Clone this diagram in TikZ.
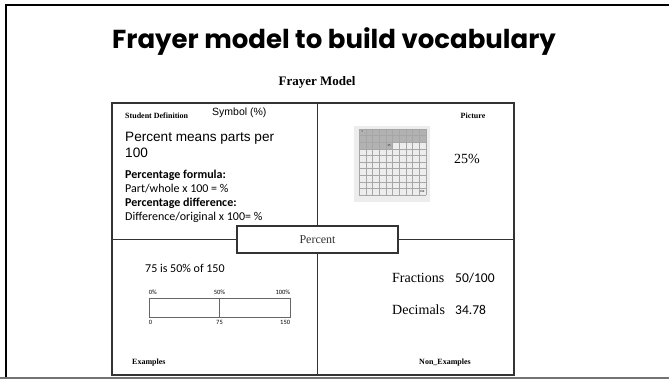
\documentclass[tikz,border=0pt]{standalone}
\usepackage{fontspec}
\setmainfont{Liberation Serif}
\newfontfamily\titlefont{Poppins}
\newfontfamily\calfont{Carlito}
\newfontfamily\arialfont{Liberation Sans}
\usetikzlibrary{positioning}
\tikzset{>=latex}
\newcommand{\fsz}[1]{\fontsize{#1}{1.2\dimexpr #1pt\relax}\selectfont}
\tikzset{
  slideline/.style = {line width = 1.6pt, black},
  frayerline/.style = {line width = 1.1pt, black!80},
  tag/.style = {inner sep = 0pt, font = \bfseries\fsz{8}},
  gridline/.style = {line width = 0.4pt, black!35}
}

\begin{document}
\begin{tikzpicture}[x = 1pt, y = -1pt]
\useasboundingbox (0,0) rectangle (669,379);
\draw[slideline] (6,379) -- (6,5) -- (669,5);
\draw[line width = 1.2pt, black!55] (0,378) -- (669,378);
\node[inner sep = 0pt, font = \titlefont\bfseries\fsz{26}] (title) at (334,42) {Frayer model to build vocabulary};
\node[inner sep = 0pt, font = \bfseries\fsz{13}] (frayer) at (317,82) {Frayer Model};

\draw[frayerline] (112,103) rectangle (514,375);
\node[draw, frayerline, minimum width = 161pt, minimum height = 27pt, inner sep = 0pt, fill = white, font = \fsz{12}] (pct) at (317.5,239.5) {Percent};
\draw[frayerline] (112,239.5) -- (pct.west);
\draw[frayerline] (pct.east) -- (514,239.5);
\draw[frayerline] (pct.north) -- (pct.north |- 0,103);
\draw[frayerline] (pct.south) -- (pct.south |- 0,375);

\node[tag, anchor = west] (defn) at (125,116) {Student Definition};
\node[inner sep = 0pt, anchor = west, font = \arialfont\fsz{10.5}] (symbol) at (212,113) {Symbol (\%)};
\node[inner sep = 0pt, anchor = west, align = left, font = \arialfont\fontsize{13.6}{16}\selectfont] (means) at (125,145) {Percent means parts per\\100};
\node[inner sep = 0pt, anchor = west, align = left, font = \calfont\fontsize{12}{14}\selectfont] (formula) at (125,196) {\textbf{Percentage formula:}\\Part/whole x 100 = \%\\\textbf{Percentage difference:}\\Difference/original x 100= \%};

\node[tag] (picture) at (473,116) {Picture};
\fill[black!7] (354,126) rectangle (430,202);
\fill[black!30] (359,129) rectangle (426,142.2);
\fill[black!30] (359,142.2) rectangle (392.5,148.8);
\foreach \i in {0,...,10} {
  \draw[gridline] (359+6.7*\i,129) -- (359+6.7*\i,195);
  \draw[gridline] (359,129+6.6*\i) -- (426,129+6.6*\i);
}
\node[inner sep = 0pt, font = \fsz{3}] (one) at (362,132) {1};
\node[inner sep = 0pt, font = \fsz{3}] (tf) at (389,145.5) {25};
\node[inner sep = 0pt, font = \fsz{3}] (hundred) at (422,192) {100};
\node[inner sep = 0pt, font = \fsz{14}] (quarter) at (467,159) {25\%};

\node[inner sep = 0pt, anchor = west, font = \calfont\fsz{12}] (ratio) at (145,268) {75 is 50\% of 150};
\node[draw, line width = 0.6pt, black!60, minimum width = 141pt, minimum height = 19pt, inner sep = 0pt] (bar) at (219.5,307.5) {};
\draw[line width = 0.6pt, black!60] (bar.north) -- (bar.south);
\node[inner sep = 0pt, font = \calfont\fsz{6.5}, above = 3pt of bar.north west, anchor = south west] (pzero) {0\%};
\node[inner sep = 0pt, font = \calfont\fsz{6.5}, above = 3pt of bar.north] (phalf) {50\%};
\node[inner sep = 0pt, font = \calfont\fsz{6.5}, above = 3pt of bar.north east, anchor = south east] (pfull) {100\%};
\node[inner sep = 0pt, font = \calfont\fsz{6.5}, below = 3pt of bar.south west, anchor = north west] (nzero) {0};
\node[inner sep = 0pt, font = \calfont\fsz{6.5}, below = 3pt of bar.south] (nhalf) {75};
\node[inner sep = 0pt, font = \calfont\fsz{6.5}, below = 3pt of bar.south east, anchor = north east] (nfull) {150};
\node[tag, anchor = west] (examples) at (132,363) {Examples};

\node[inner sep = 0pt, anchor = west, font = \fsz{14}] (fractions) at (392,278) {Fractions};
\node[inner sep = 0pt, anchor = west, font = \calfont\fsz{13.5}] (fracval) at (455,278) {50/100};
\node[inner sep = 0pt, anchor = west, font = \fsz{14}] (decimals) at (392,310) {Decimals};
\node[inner sep = 0pt, anchor = west, font = \calfont\fsz{13.5}] (decval) at (455,310) {34.78};
\node[tag] (nonex) at (445,363) {Non\_Examples};
\end{tikzpicture}
\end{document}
